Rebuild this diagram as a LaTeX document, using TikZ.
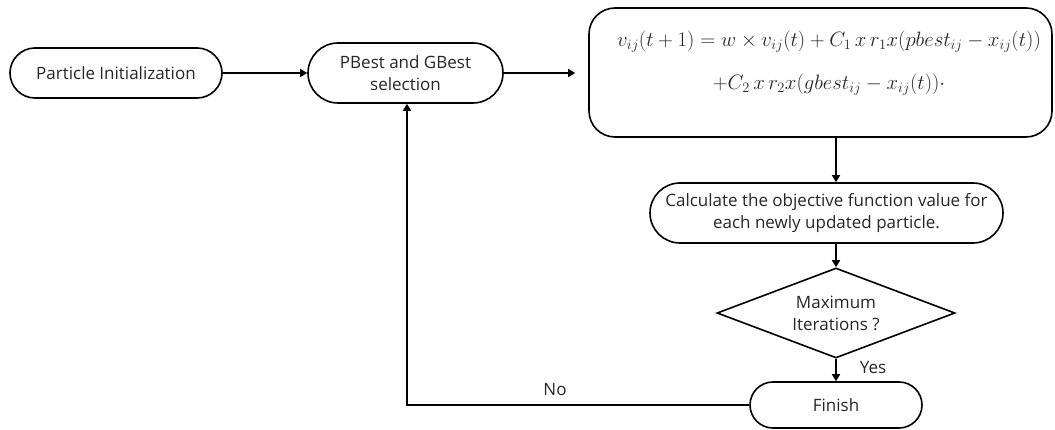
\documentclass[tikz,border=0pt]{standalone}
\usepackage{fontspec}
\setmainfont{Open Sans}
\usetikzlibrary{shapes.misc,shapes.geometric,arrows.meta}
\definecolor{txt}{HTML}{262626}
\begin{document}
\begin{tikzpicture}[x=1pt,y=-1pt,
  every node/.style={text=txt, font=\fontsize{17}{22}\selectfont},
  stadium/.style={draw, line width=1.6pt, rounded rectangle, inner sep=0pt, align=center},
  conn/.style={line width=1.6pt, -{Triangle[length=7pt,width=8pt]}}]
\useasboundingbox (0,0) rectangle (1055,430);
\node[stadium, minimum width=212pt, minimum height=50pt] (init) at (116,73) {Particle Initialization};
\node[stadium, minimum width=195pt, minimum height=60pt] (pg) at (405.5,73) {PBest and GBest\\selection};
\node[draw, line width=1.6pt, rounded corners=26pt, minimum width=463pt, minimum height=129pt, inner sep=0pt] (form) at (820.5,72.5) {};
\node[align=center, inner sep=0pt, font=\fontsize{20}{24}\selectfont] (formtext) at (829,63.5)
 {$v_{ij}(t+1) = w \times v_{ij}(t) + C_1\,x\,r_1x\bigl(pbest_{ij} - x_{ij}(t)\bigr)$\\[19pt]
  $+C_2\,x\,r_2x(gbest_{ij} - x_{ij}(t))\cdot$};
\node[stadium, minimum width=353pt, minimum height=60pt] (calc) at (826.5,213) {Calculate the objective function value for\\each newly updated particle.};
\node[draw, diamond, line width=1.6pt, minimum width=238pt, minimum height=90pt, inner sep=0pt, shape aspect=2.64, align=center] (dec) at (836,313) {Maximum\\Iterations ?};
\node[stadium, minimum width=172pt, minimum height=46pt] (fin) at (836,405) {Finish};
\coordinate (corner) at (407,405);
\draw[conn] (init.east) -- (pg.west);
\draw[conn, shorten >=13pt] (pg.east) -- (form.west |- pg.east);
\draw[conn] (form.south -| dec.north) -- (calc.north -| dec.north);
\draw[conn] (calc.south -| dec.north) -- (dec.north);
\draw[conn] (dec.south) -- (fin.north);
\draw[conn] (fin.west) -- (corner) -- (pg.south -| corner);
\node at (873,368) {Yes};
\node at (555,390) {No};
\end{tikzpicture}
\end{document}
